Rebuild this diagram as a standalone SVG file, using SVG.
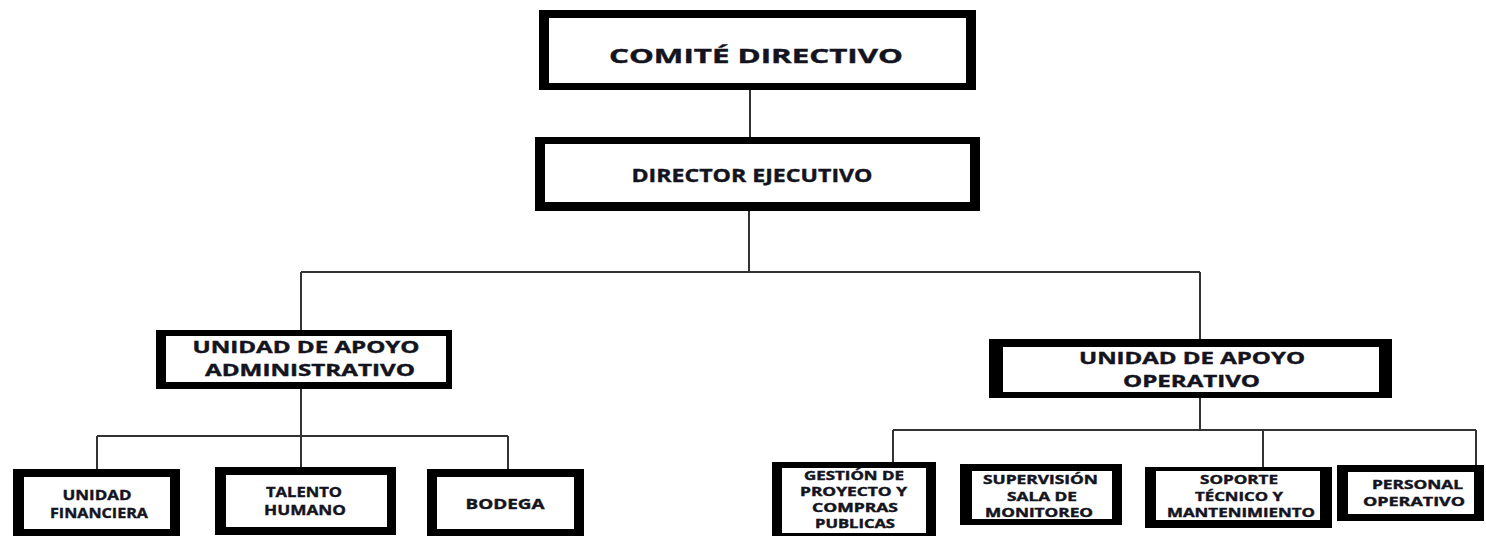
<svg xmlns="http://www.w3.org/2000/svg" width="1486" height="536" viewBox="0 0 1486 536">
<style>
.o{fill:#000}
.i{fill:#fff}
.c{fill:none;stroke:#333;stroke-width:2}
text{font-family:"Open Sans","Liberation Sans",Arial,sans-serif;font-weight:bold;fill:#14141e;stroke:#14141e;stroke-width:0.4;text-anchor:middle}
.t1{font-size:20px}
.t2{font-size:18px}
.t6{font-size:16px}
.t3{font-size:15px}
.t4{font-size:12px}
.t5{font-size:11.5px}
</style>
<rect width="1486" height="536" fill="#fff"/>
<g id="connectors">
<path class="c" d="M750,90 V137 M749,211 V272 M301,272 H1200 M301,272 V330 M1200,272 V339 M301,389 V467 M97,436 H508 M97,436 V469 M508,436 V469 M1200,398 V430 M893,430 H1476 M893,430 V462 M1263,430 V467 M1476,430 V465"/>
</g>
<g id="comite">
<rect class="o" x="539" y="10" width="437" height="80"/>
<rect class="i" x="549" y="18" width="417" height="65"/>
<text class="t1" x="756" y="63" textLength="294" lengthAdjust="spacingAndGlyphs">COMITÉ DIRECTIVO</text>
</g>
<g id="director">
<rect class="o" x="535" y="137" width="445" height="74"/>
<rect class="i" x="545" y="144" width="425" height="58"/>
<text class="t2" x="752" y="182" textLength="241" lengthAdjust="spacingAndGlyphs">DIRECTOR EJECUTIVO</text>
</g>
<g id="apoyo-admin">
<rect class="o" x="156" y="330" width="296" height="59"/>
<rect class="i" x="166" y="336" width="280" height="46"/>
<text class="t6" x="306" y="353" textLength="227" lengthAdjust="spacingAndGlyphs">UNIDAD DE APOYO</text>
<text class="t6" x="310" y="376" textLength="210" lengthAdjust="spacingAndGlyphs">ADMINISTRATIVO</text>
</g>
<g id="apoyo-oper">
<rect class="o" x="989" y="339" width="403" height="59"/>
<rect class="i" x="1003" y="347" width="376" height="45"/>
<text class="t6" x="1192" y="364" textLength="226" lengthAdjust="spacingAndGlyphs">UNIDAD DE APOYO</text>
<text class="t6" x="1191.5" y="387" textLength="137" lengthAdjust="spacingAndGlyphs">OPERATIVO</text>
</g>
<g id="financiera">
<rect class="o" x="13" y="469" width="167" height="68"/>
<rect class="i" x="24" y="477" width="146" height="52"/>
<text class="t3" x="97" y="500" textLength="69" lengthAdjust="spacingAndGlyphs">UNIDAD</text>
<text class="t3" x="99" y="518" textLength="98" lengthAdjust="spacingAndGlyphs">FINANCIERA</text>
</g>
<g id="talento">
<rect class="o" x="215" y="467" width="181" height="68"/>
<rect class="i" x="226" y="475" width="161" height="52"/>
<text class="t3" x="304" y="497" textLength="76" lengthAdjust="spacingAndGlyphs">TALENTO</text>
<text class="t3" x="305" y="515" textLength="82" lengthAdjust="spacingAndGlyphs">HUMANO</text>
</g>
<g id="bodega">
<rect class="o" x="427" y="469" width="157" height="68"/>
<rect class="i" x="437" y="477" width="137" height="52"/>
<text class="t3" x="505" y="509" textLength="79" lengthAdjust="spacingAndGlyphs">BODEGA</text>
</g>
<g id="gestion">
<rect class="o" x="772" y="462" width="164" height="78"/>
<rect class="i" x="782" y="468" width="144" height="65"/>
<text class="t5" x="854" y="480" textLength="100" lengthAdjust="spacingAndGlyphs">GESTIÓN DE</text>
<text class="t5" x="853.5" y="496" textLength="107" lengthAdjust="spacingAndGlyphs">PROYECTO Y</text>
<text class="t5" x="855" y="512" textLength="86" lengthAdjust="spacingAndGlyphs">COMPRAS</text>
<text class="t5" x="855" y="528" textLength="80" lengthAdjust="spacingAndGlyphs">PUBLICAS</text>
</g>
<g id="supervision">
<rect class="o" x="960" y="464" width="162" height="61"/>
<rect class="i" x="972" y="471" width="140" height="48"/>
<text class="t4" x="1040.5" y="484" textLength="115" lengthAdjust="spacingAndGlyphs">SUPERVISIÓN</text>
<text class="t4" x="1042" y="501" textLength="70" lengthAdjust="spacingAndGlyphs">SALA DE</text>
<text class="t4" x="1039" y="517" textLength="108" lengthAdjust="spacingAndGlyphs">MONITOREO</text>
</g>
<g id="soporte">
<rect class="o" x="1145" y="467" width="187" height="61"/>
<rect class="i" x="1156" y="471" width="164" height="49"/>
<text class="t4" x="1239" y="484" textLength="78" lengthAdjust="spacingAndGlyphs">SOPORTE</text>
<text class="t4" x="1239" y="501" textLength="88" lengthAdjust="spacingAndGlyphs">TÉCNICO Y</text>
<text class="t4" x="1241" y="517" textLength="148" lengthAdjust="spacingAndGlyphs">MANTENIMIENTO</text>
</g>
<g id="personal">
<rect class="o" x="1337" y="465" width="147" height="56"/>
<rect class="i" x="1348" y="472" width="126" height="42"/>
<text class="t4" x="1417.5" y="489" textLength="91" lengthAdjust="spacingAndGlyphs">PERSONAL</text>
<text class="t4" x="1414" y="506" textLength="102" lengthAdjust="spacingAndGlyphs">OPERATIVO</text>
</g>
</svg>
